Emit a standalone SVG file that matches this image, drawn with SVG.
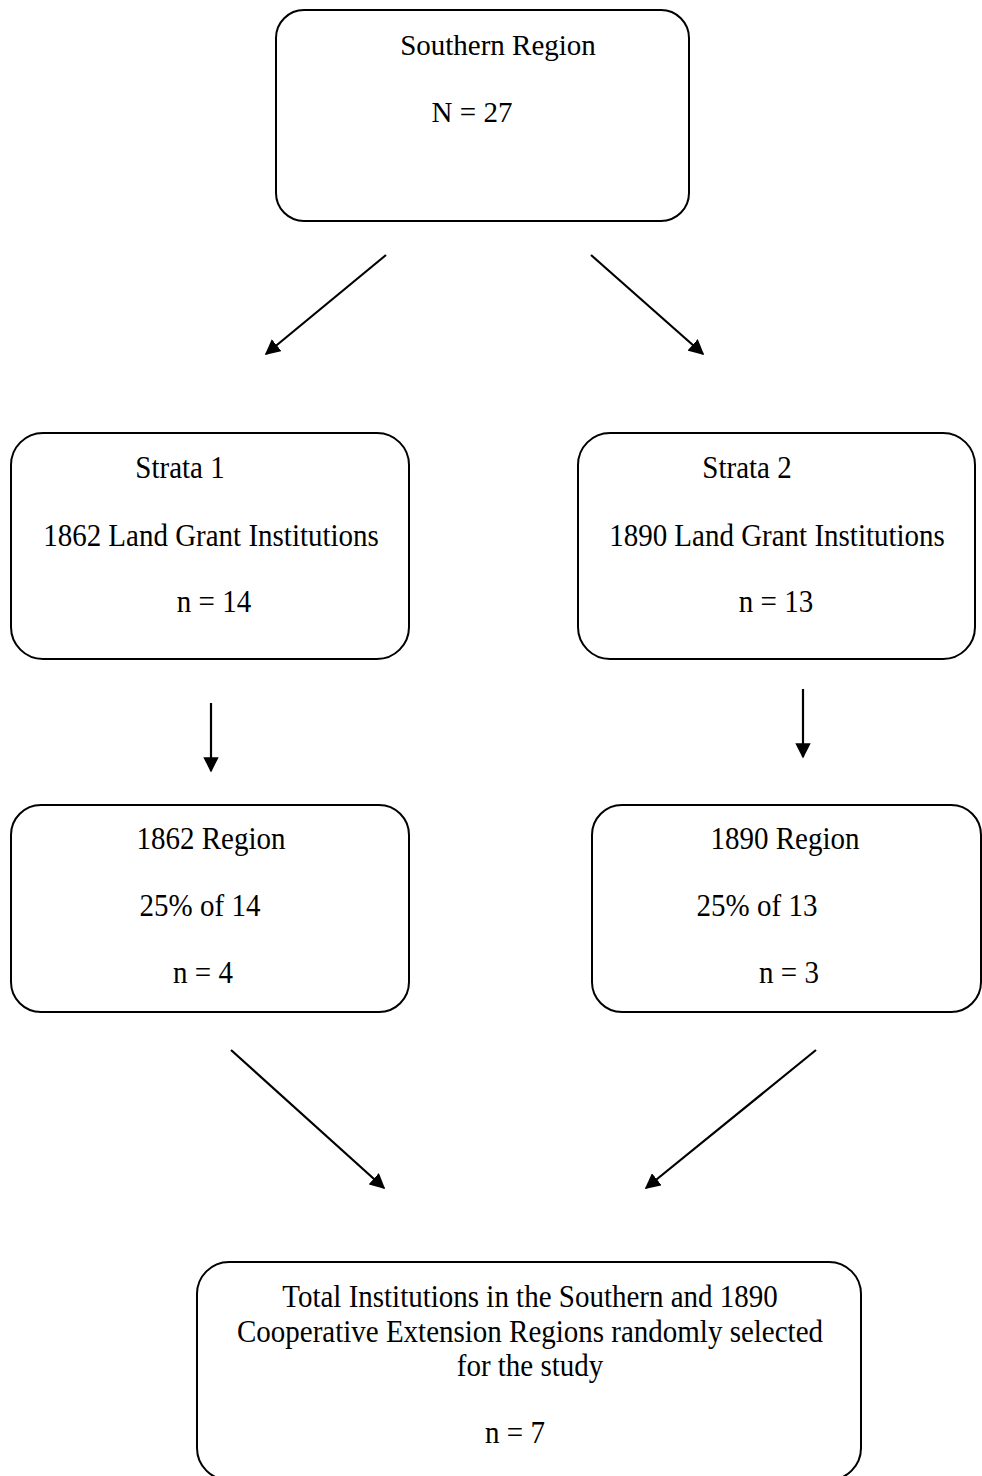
<svg xmlns="http://www.w3.org/2000/svg" width="982" height="1476" viewBox="0 0 982 1476">
<defs>
<style>
.box{fill:#fff;stroke:#000;stroke-width:2}
.t{font-family:"Liberation Serif","Times New Roman",serif;font-size:29px;fill:#000;text-anchor:middle}
.c{stroke:#000;stroke-width:2.2;fill:none;marker-end:url(#ah)}
</style>
<marker id="ah" viewBox="0 0 10 10" refX="9" refY="5" markerWidth="7" markerHeight="7" markerUnits="strokeWidth" orient="auto">
<path d="M0,0 L10,5 L0,10 z" fill="#000"/>
</marker>
</defs>
<rect width="982" height="1476" fill="#fff"/>
<g id="southern">
<rect class="box" x="276" y="10" width="413" height="211" rx="28" ry="28"/>
<text class="t" x="498" y="55">Southern Region</text>
<text class="t" x="472" y="122">N = 27</text>
</g>
<g id="strata1">
<rect class="box" x="11" y="433" width="398" height="226" rx="32" ry="32"/>
<text class="t" transform="translate(180,478) scale(1,1.1)">Strata 1</text>
<text class="t" transform="translate(211,546) scale(1,1.1)">1862 Land Grant Institutions</text>
<text class="t" transform="translate(214,612) scale(1,1.1)">n = 14</text>
</g>
<g id="strata2">
<rect class="box" x="578" y="433" width="397" height="226" rx="32" ry="32"/>
<text class="t" transform="translate(747,478) scale(1,1.1)">Strata 2</text>
<text class="t" transform="translate(777,546) scale(1,1.1)">1890 Land Grant Institutions</text>
<text class="t" transform="translate(776,612) scale(1,1.1)">n = 13</text>
</g>
<g id="region1862">
<rect class="box" x="11" y="805" width="398" height="207" rx="30" ry="30"/>
<text class="t" transform="translate(211,849) scale(1,1.1)">1862 Region</text>
<text class="t" transform="translate(200,916) scale(1,1.1)">25% of 14</text>
<text class="t" transform="translate(203,983) scale(1,1.1)">n = 4</text>
</g>
<g id="region1890">
<rect class="box" x="592" y="805" width="389" height="207" rx="30" ry="30"/>
<text class="t" transform="translate(785,849) scale(1,1.1)">1890 Region</text>
<text class="t" transform="translate(757,916) scale(1,1.1)">25% of 13</text>
<text class="t" transform="translate(789,983) scale(1,1.1)">n = 3</text>
</g>
<g id="total">
<rect class="box" x="197" y="1262" width="664" height="218" rx="32" ry="32"/>
<text class="t" transform="translate(530,1307) scale(1,1.1)">Total Institutions in the Southern and 1890</text>
<text class="t" transform="translate(530,1342) scale(1,1.1)">Cooperative Extension Regions randomly selected</text>
<text class="t" transform="translate(530,1376) scale(1,1.1)">for the study</text>
<text class="t" transform="translate(515,1443) scale(1,1.1)">n = 7</text>
</g>
<g id="connectors">
<line class="c" x1="386" y1="255" x2="266" y2="354"/>
<line class="c" x1="591" y1="255" x2="703" y2="354"/>
<line class="c" x1="211" y1="703" x2="211" y2="771"/>
<line class="c" x1="803" y1="689" x2="803" y2="757"/>
<line class="c" x1="231" y1="1050" x2="384" y2="1188"/>
<line class="c" x1="816" y1="1050" x2="646" y2="1188"/>
</g>
</svg>
